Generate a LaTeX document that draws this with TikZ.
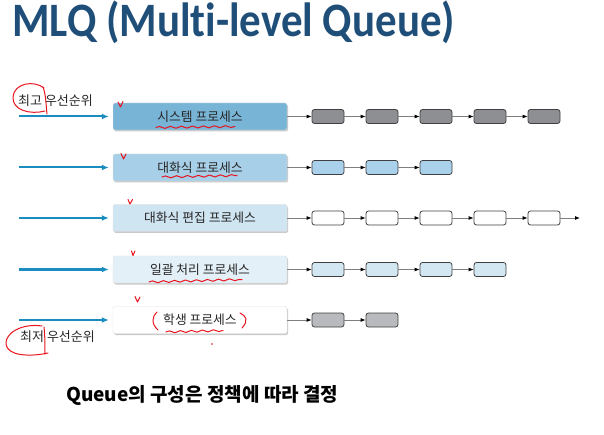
\documentclass[tikz,border=0pt]{standalone}
\usepackage{fontspec}
\setmainfont{Carlito}[Ligatures=NoCommon]
\newfontfamily\kr{Noto Sans CJK KR}
\usetikzlibrary{arrows.meta,shadows,decorations.pathmorphing}
\definecolor{titleblue}{HTML}{1F4E79}
\definecolor{inarrow}{HTML}{1A8CC0}
\definecolor{bigA}{HTML}{78B4D6}
\definecolor{bigB}{HTML}{A7CFE7}
\definecolor{bigC}{HTML}{D0E5F2}
\definecolor{bigD}{HTML}{E3F0F8}
\definecolor{smA}{HTML}{8E8F93}
\definecolor{smB}{HTML}{A9D1EB}
\definecolor{smD}{HTML}{D3E7F3}
\definecolor{smE}{HTML}{B9BABE}
\definecolor{pen}{HTML}{E8141E}
\definecolor{conn}{HTML}{7F7F7F}
\tikzset{
  bigbox/.style={draw=black!12, rounded corners=2pt, minimum width=174pt, minimum height=27pt,
    inner sep=0pt, font=\kr\fontsize{12.8}{15}\selectfont, text=black!85,
    drop shadow={shadow xshift=1pt, shadow yshift=-1.5pt, opacity=0.35, fill=black!60}},
  smbox/.style={draw=black!75, line width=0.8pt, rounded corners=2.5pt, minimum width=32pt,
    minimum height=14pt, inner sep=0pt},
  feed/.style={draw=inarrow, line width=2pt, -{Latex[length=7pt,width=6pt]}},
  link/.style={draw=conn, line width=0.8pt, -{Latex[length=5pt,width=4pt,black]}},
  redpen/.style={draw=pen, line width=1pt, line cap=round, line join=round},
  wavy/.style={redpen, decorate, decoration={snake, segment length=11pt, amplitude=1pt}},
  lbl/.style={font=\kr\fontsize{13}{15}\selectfont, text=black!85, inner sep=0pt, anchor=west}
}
\begin{document}
\begin{tikzpicture}[x=1pt,y=-1pt]
\useasboundingbox (0,0) rectangle (604,435);
% title
\node[anchor=base west, inner sep=0pt, text=titleblue, font=\bfseries\fontsize{48}{54}\selectfont] (title) at (12,37) {\scalebox{0.894}[1]{MLQ (Multi-level Queue)}};
% labels
\node[lbl] (hi) at (18,101) {최고 우선순위};
\node[lbl] (lo) at (20,337) {최저 우선순위};
% feed coordinates
\coordinate (f1) at (19,116.5);
\coordinate (f2) at (19,167.5);
\coordinate (f3) at (19,218);
\coordinate (f4) at (19,269.5);
\coordinate (f5) at (19,320);
% big boxes
\node[bigbox, fill=bigA] (b1) at (200,116.5) {시스템 프로세스};
\node[bigbox, fill=bigB] (b2) at (200,167.5) {대화식 프로세스};
\node[bigbox, fill=bigC] (b3) at (200,218) {대화식 편집 프로세스};
\node[bigbox, fill=bigD] (b4) at (200,269.5) {일괄 처리 프로세스};
\node[bigbox, fill=white] (b5) at (200,320) {학생 프로세스};
\foreach \i in {1,...,5}{\draw[feed] (f\i) -- ([xshift=-4pt]b\i.west);}
% row 1
\foreach \k in {1,...,5}{\node[smbox, fill=smA] (r1s\k) at (328+54*\k-54,116.5) {};}
\draw[link] (b1) -- (r1s1);
\foreach \k [evaluate=\k as \j using int(\k+1)] in {1,...,4}{\draw[link] (r1s\k) -- (r1s\j);}
% row 2
\foreach \k in {1,...,3}{\node[smbox, fill=smB] (r2s\k) at (328+54*\k-54,167.5) {};}
\draw[link] (b2) -- (r2s1);
\foreach \k [evaluate=\k as \j using int(\k+1)] in {1,...,2}{\draw[link] (r2s\k) -- (r2s\j);}
% row 3
\foreach \k in {1,...,5}{\node[smbox, fill=white] (r3s\k) at (328+54*\k-54,218) {};}
\draw[link] (b3) -- (r3s1);
\foreach \k [evaluate=\k as \j using int(\k+1)] in {1,...,4}{\draw[link] (r3s\k) -- (r3s\j);}
\coordinate (r3end) at (580,218);
\draw[link] (r3s5) -- (r3end);
% row 4
\foreach \k in {1,...,4}{\node[smbox, fill=smD] (r4s\k) at (328+54*\k-54,269.5) {};}
\draw[link] (b4) -- (r4s1);
\foreach \k [evaluate=\k as \j using int(\k+1)] in {1,...,3}{\draw[link] (r4s\k) -- (r4s\j);}
% row 5
\foreach \k in {1,...,2}{\node[smbox, fill=smE] (r5s\k) at (328+54*\k-54,320) {};}
\draw[link] (b5) -- (r5s1);
\draw[link] (r5s1) -- (r5s2);
% bottom text
\node[anchor=west, inner sep=0pt, font=\kr\bfseries\fontsize{19}{22}\selectfont] (note) at (66,395) {Queue의 구성은 정책에 따라 결정};
% red annotations
\draw[redpen] (44,88) .. controls (34,80) and (14,83) .. (13,97) .. controls (12,110) and (30,115) .. (45,111);
\draw[redpen] (43,87) .. controls (46,95) and (46,105) .. (47,114);
\draw[redpen] (42,326) .. controls (22,323) and (5,333) .. (6,344) .. controls (7,356) and (30,357) .. (48,353);
\draw[redpen] (44,327) .. controls (45,336) and (45,345) .. (45,354);
\draw[redpen] (118,102) -- (120.5,107) -- (123,101.5);
\draw[redpen] (121,153.5) -- (123.5,159) -- (126,154);
\draw[redpen] (128,199.5) -- (130,204) -- (132.5,199.5);
\draw[redpen] (131.5,251) -- (133,255.5) -- (135,251);
\draw[redpen] (135,296.5) -- (137.5,302) -- (140,297);
\draw[wavy] (156,127.5) -- (235,126.5);
\draw[wavy] (162,177) -- (237,175.5);
\draw[wavy] (149,282) -- (242,279.5);
\draw[wavy] (166,332) -- (223,330.5);
\draw[redpen] (157,312) .. controls (152,316) and (151,324) .. (158,330);
\draw[redpen] (240,313) .. controls (246,316) and (249,320) .. (242,328);
\fill[pen] (212,344) circle (0.8);
\end{tikzpicture}
\end{document}
